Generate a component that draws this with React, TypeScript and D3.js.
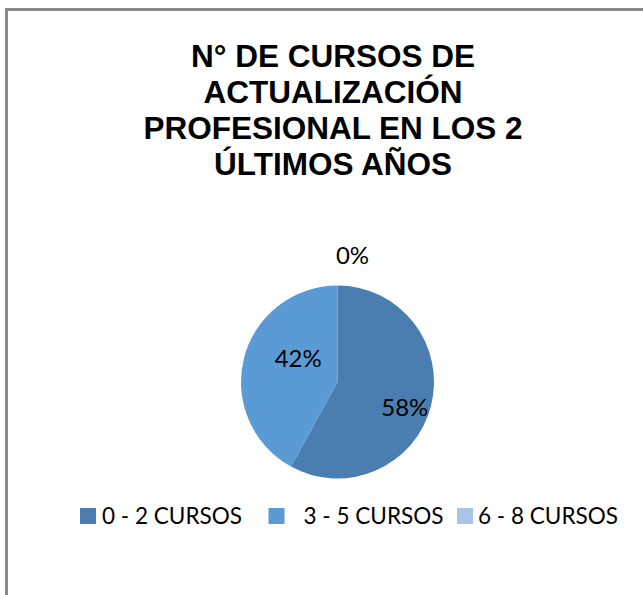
import React from "react";
import * as d3 from "d3";

const titleLines = ["N° DE CURSOS DE", "ACTUALIZACIÓN", "PROFESIONAL EN LOS 2", "ÚLTIMOS AÑOS"];
const categories = ["0 - 2 CURSOS", "3 - 5 CURSOS", "6 - 8 CURSOS"];
const values = [58, 42, 0];
const colors = ["#4a7eb1", "#5b9bd5", "#a9c4e6"];
// label nudges (Excel "best fit" placement), in px
const labelDx = [0, 28, 15];
const labelDy = [7, -7, 0];
// gap between legend swatch and its text
const legendGap = [22, 35, 21];

const W = 643;
const H = 595;

export default function App() {
  const cx = 337.5;
  const cy = 382;
  const r = 96.5;
  const total = d3.sum(values);
  const pie = d3.pie<number>().sort(null).value((d) => d)(values);
  const arc = d3.arc<d3.PieArcDatum<number>>().innerRadius(0).outerRadius(r);
  const labelArc = d3
    .arc<d3.PieArcDatum<number>>()
    .innerRadius(r * 0.72)
    .outerRadius(r * 0.72);
  const outerArc = d3
    .arc<d3.PieArcDatum<number>>()
    .innerRadius(r + 31)
    .outerRadius(r + 31);

  const legendX = d3.scalePoint<number>().domain([0, 1, 2]).range([80, 457]);
  const fontLegend = "Lato, 'Open Sans', sans-serif";

  return (
    <svg
      width={W}
      height={H}
      style={{ position: "absolute", left: 0, top: 0, background: "#fff" }}
    >
      <rect x={0} y={0} width={W} height={H} fill="#fff" />
      {/* border */}
      <line x1={6.5} y1={9.5} x2={W} y2={9.5} stroke="#898989" strokeWidth={3} />
      <line x1={6.5} y1={8} x2={6.5} y2={H} stroke="#898989" strokeWidth={3} />

      {/* title */}
      <g
        fontFamily="'Liberation Sans', Arial, sans-serif"
        fontWeight="bold"
        fontSize={31.5}
        textAnchor="middle"
        fill="#000"
      >
        {titleLines.map((t, i) => (
          <text key={i} x={333} y={67 + i * 36}>
            {t}
          </text>
        ))}
      </g>

      {/* pie */}
      <g transform={`translate(${cx},${cy})`}>
        {pie.map((p, i) =>
          p.value > 0 ? <path key={i} d={arc(p) || ""} fill={colors[i]} /> : null
        )}
        {pie.map((p, i) => {
          const pct = Math.round((p.value / total) * 100) + "%";
          const [x, y] = p.value > 0 ? labelArc.centroid(p) : outerArc.centroid(p);
          return (
            <text
              key={"l" + i}
              x={x + labelDx[i]}
              y={y + labelDy[i]}
              textAnchor="middle"
              dominantBaseline="central"
              fontFamily={fontLegend}
              fontSize={24}
              fill="#000"
            >
              {pct}
            </text>
          );
        })}
      </g>

      {/* legend */}
      <g fontFamily={fontLegend} fontSize={24} fill="#000">
        {categories.map((c, i) => {
          const x = legendX(i) as number;
          return (
            <g key={c}>
              <rect x={x} y={508} width={16} height={16} fill={colors[i]} />
              <text
                x={x + legendGap[i]}
                y={523.5}
                textLength={140}
                lengthAdjust="spacingAndGlyphs"
              >
                {c}
              </text>
            </g>
          );
        })}
      </g>
    </svg>
  );
}
